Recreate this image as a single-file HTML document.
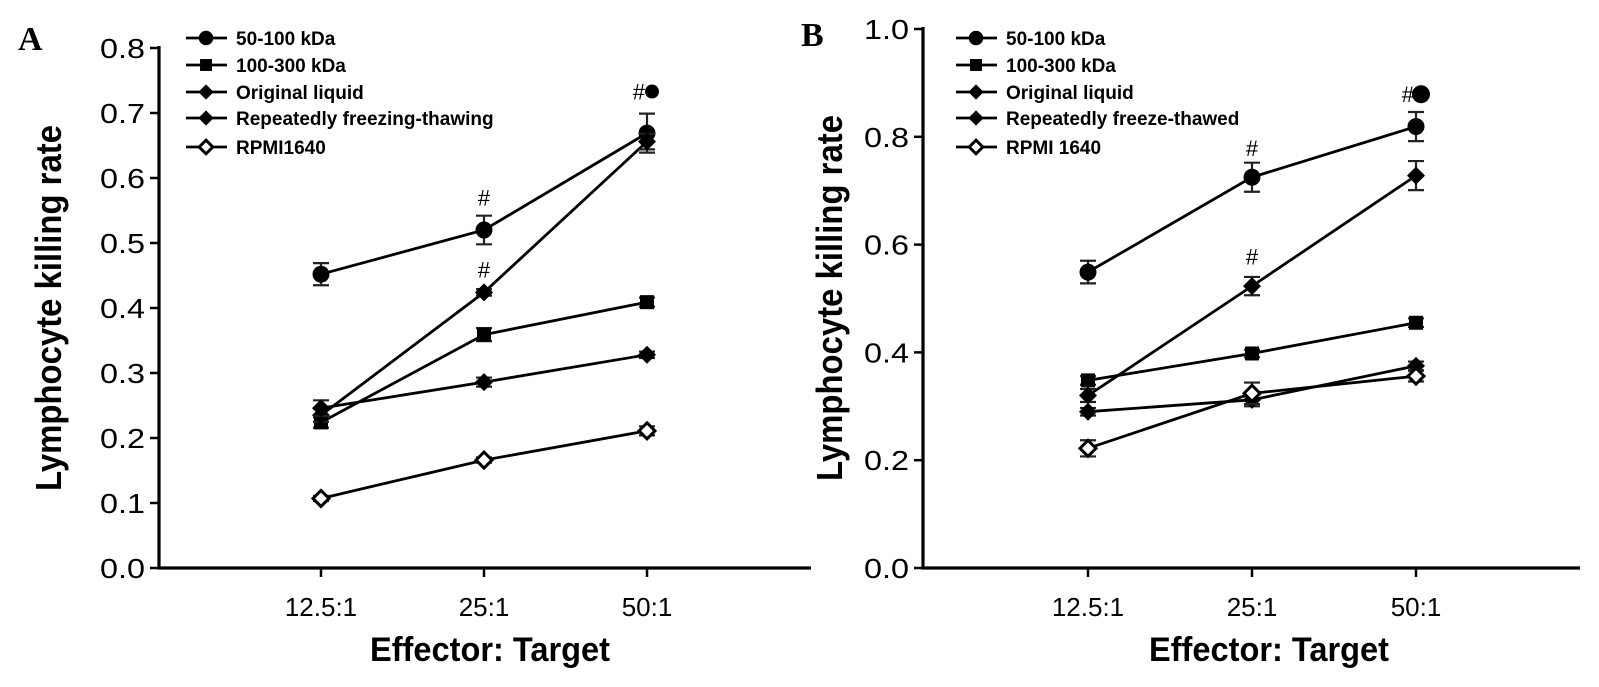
<!DOCTYPE html>
<html><head><meta charset="utf-8"><style>
html,body{margin:0;padding:0;background:#fff;}
svg{display:block;font-family:"Liberation Sans",Arial,sans-serif;}
</style></head><body>
<svg id="fig" width="1599" height="687" viewBox="0 0 1599 687" xmlns="http://www.w3.org/2000/svg"></svg>
<script>
const categories = ["12.5:1","25:1","50:1"];
const seriesNamesA = ["50-100 kDa","100-300 kDa","Original liquid","Repeatedly freezing-thawing","RPMI1640"];
const seriesNamesB = ["50-100 kDa","100-300 kDa","Original liquid","Repeatedly freeze-thawed","RPMI 1640"];
const markers = ["circle","square","diamond","diamond","open"];
const yTicksA = ["0.0","0.1","0.2","0.3","0.4","0.5","0.6","0.7","0.8"];
const yTicksB = ["0.0","0.2","0.4","0.6","0.8","1.0"];
// Panel A values
const a50_100 = [0.452, 0.520, 0.669];
const a50_100Err = [0.017, 0.022, 0.030];
const a100_300 = [0.224, 0.359, 0.409];
const a100_300Err = [0.008, 0.010, 0.007];
const aOriginal = [0.235, 0.424, 0.656];
const aOriginalErr = [0.010, 0.005, 0.012];
const aFreeze = [0.246, 0.286, 0.328];
const aFreezeErr = [0.012, 0.007, 0.005];
const aRpmi = [0.107, 0.166, 0.211];
const aRpmiErr = [0.004, 0.004, 0.007];
// Panel B values
const b50_100 = [0.549, 0.725, 0.819];
const b50_100Err = [0.021, 0.027, 0.027];
const b100_300 = [0.348, 0.398, 0.455];
const b100_300Err = [0.008, 0.007, 0.008];
const bOriginal = [0.320, 0.523, 0.728];
const bOriginalErr = [0.012, 0.017, 0.027];
const bFreeze = [0.290, 0.312, 0.375];
const bFreezeErr = [0.007, 0.012, 0.008];
const bRpmi = [0.222, 0.324, 0.356];
const bRpmiErr = [0.015, 0.020, 0.010];
// significance markers: [categoryIndex, yValue, label]
const sigA = [[1,0.570,"#"],[1,0.459,"#"],[2,0.733,"#●"]];
const sigB = [[1,0.779,"#"],[1,0.578,"#"],[2,0.879,"#●"]];

const NS="http://www.w3.org/2000/svg";
const svg=document.getElementById('fig');
function mk(tag,attrs,parent){const e=document.createElementNS(NS,tag);for(const k in attrs)e.setAttribute(k,attrs[k]);(parent||svg).appendChild(e);return e;}

function panel(cfg){
  const g=mk('g',{});
  
  
  const y=v=>cfg.y0-(v/cfg.yMax)*(cfg.y0-cfg.yTop);
  const x=i=>cfg.x0+i*cfg.dx;
  const L=mk('text',{x:cfg.letterX,y:cfg.letterY,'font-family':'"Liberation Serif",serif','font-weight':'bold','font-size':34},g);
  L.textContent=cfg.letter;
  
  
  const ax=mk('path',{d:`M${cfg.axX},${cfg.yTop-2} L${cfg.axX},${cfg.y0} L${cfg.axEnd},${cfg.y0}`,fill:'none',stroke:'#000','stroke-width':3.2},g);
  
  
  cfg.yTicks.forEach(t=>{
    const v=parseFloat(t), yy=y(v);
    mk('line',{x1:cfg.axX-9,x2:cfg.axX,y1:yy,y2:yy,stroke:'#000','stroke-width':2.5},g);
    const tx=mk('text',{x:cfg.axX-14,y:yy+10,'text-anchor':'end','font-size':28,textLength:45,lengthAdjust:'spacingAndGlyphs'},g);
    tx.textContent=t;
    
    
  });
  categories.forEach((c,i)=>{
    mk('line',{x1:x(i),x2:x(i),y1:cfg.y0,y2:cfg.y0+9,stroke:'#000','stroke-width':2.5},g);
    const tx=mk('text',{x:x(i),y:616,'text-anchor':'middle','font-size':26},g);
    tx.textContent=c;
    
    
  });
  const xt=mk('text',{x:cfg.xTitleX,y:661,'text-anchor':'middle','font-size':34,'font-weight':'bold',textLength:240,lengthAdjust:'spacingAndGlyphs'},g);
  xt.textContent='Effector: Target';
  
  
  const yt=mk('text',{x:0,y:0,'text-anchor':'middle','font-size':36,'font-weight':'bold',textLength:366,lengthAdjust:'spacingAndGlyphs',transform:`translate(${cfg.yTitleX},${cfg.yTitleY}) rotate(-90)`},g);
  yt.textContent='Lymphocyte killing rate';
  
  

  function marker(type,cx,cy,parent,s){
    s=s||1;
    if(type==='circle') return mk('circle',{cx,cy,r:8.5*s,fill:'#000'},parent);
    if(type==='square') return mk('rect',{x:cx-7*s,y:cy-7*s,width:14*s,height:14*s,fill:'#000'},parent);
    if(type==='diamond') return mk('path',{d:`M${cx},${cy-9*s} L${cx+9*s},${cy} L${cx},${cy+9*s} L${cx-9*s},${cy} Z`,fill:'#000'},parent);
    return mk('path',{d:`M${cx},${cy-8*s} L${cx+8*s},${cy} L${cx},${cy+8*s} L${cx-8*s},${cy} Z`,fill:'#fff',stroke:'#000','stroke-width':3},parent);
  }
  cfg.series.forEach((s,si)=>{
    const sg=mk('g',{},g);
    
    
    const pts=s.v.map((v,i)=>x(i)+','+y(v)).join(' ');
    mk('polyline',{points:pts,fill:'none',stroke:'#000','stroke-width':2.8},sg);
    s.v.forEach((v,i)=>{
      const e=s.e[i], xx=x(i);
      mk('path',{d:`M${xx},${y(v+e)} L${xx},${y(v-e)} M${xx-8},${y(v+e)} L${xx+8},${y(v+e)} M${xx-8},${y(v-e)} L${xx+8},${y(v-e)}`,stroke:'#222','stroke-width':2.2},sg);
      const m=marker(markers[si],xx,y(v),sg);
      
      
    });
  });
  cfg.sig.forEach(sg=>{
    const sgG=mk('g',{},g);
    
    
    const xx=x(sg[0]), yy=y(sg[1]);
    if(sg[2].length>1){
      const t=mk('text',{x:xx-2,y:yy+8,'text-anchor':'end','font-size':22},sgG);
      t.textContent='#';
      mk('circle',{cx:xx+5,cy:yy,r:cfg.sigR,fill:'#000'},sgG);
    } else {
      const t=mk('text',{x:xx,y:yy+8,'text-anchor':'middle','font-size':22},sgG);
      t.textContent=sg[2];
    }
  });
  cfg.names.forEach((n,i)=>{
    const ly=[38,65,92,118,147][i];
    const lg=mk('g',{},g);
    
    
    mk('line',{x1:cfg.legX,x2:cfg.legX+41,y1:ly,y2:ly,stroke:'#000','stroke-width':2.8},lg);
    marker(markers[i],cfg.legX+20,ly,lg,0.85);
    const t=mk('text',{x:cfg.legX+50,y:ly+7,'font-size':19,'font-weight':'bold'},lg);
    t.textContent=n;
  });
}

panel({id:'panel-a',letter:'A',letterX:18,letterY:50,axX:159,axEnd:811,y0:568,yTop:48,yMax:0.8,x0:321,dx:163,
  yTicks:yTicksA,names:seriesNamesA,xTitleX:490,yTitleX:61,yTitleY:308,legX:186,sig:sigA,sigR:7,
  series:[{v:a50_100,e:a50_100Err},{v:a100_300,e:a100_300Err},{v:aOriginal,e:aOriginalErr},{v:aFreeze,e:aFreezeErr},{v:aRpmi,e:aRpmiErr}]});
panel({id:'panel-b',letter:'B',letterX:801,letterY:46,axX:923,axEnd:1580,y0:568,yTop:29,yMax:1.0,x0:1088,dx:164,
  yTicks:yTicksB,names:seriesNamesB,xTitleX:1269,yTitleX:842,yTitleY:298,legX:956,sig:sigB,sigR:9,
  series:[{v:b50_100,e:b50_100Err},{v:b100_300,e:b100_300Err},{v:bOriginal,e:bOriginalErr},{v:bFreeze,e:bFreezeErr},{v:bRpmi,e:bRpmiErr}]});
</script>
</body></html>
